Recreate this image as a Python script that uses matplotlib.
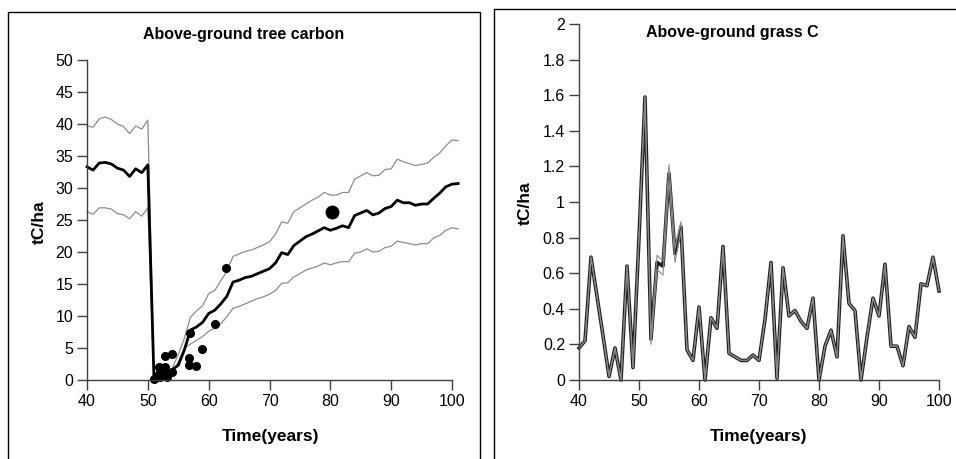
import matplotlib
matplotlib.use("Agg")
import matplotlib.pyplot as plt
from matplotlib.patches import Rectangle
import numpy as np

plt.rcParams['font.family'] = ['Liberation Sans', 'DejaVu Sans']

# ---- Left panel data: above-ground tree carbon ----
tree_years = list(range(40, 102))
tree_mean = [33.3, 32.8, 33.9, 34.0, 33.75, 33.1, 32.8, 31.8, 33.0, 32.4, 33.6,
             0.5, 0.8, 1.0, 1.6, 2.3, 4.7, 7.8, 8.3, 9.0, 10.4,
             10.9, 11.9, 13.1, 15.3, 15.6, 16.0, 16.2, 16.6, 17.0, 17.4,
             18.3, 19.9, 19.6, 21.0, 21.7, 22.4, 22.8, 23.3, 23.8, 23.4,
             23.7, 24.1, 23.8, 25.7, 26.1, 26.5, 25.8, 26.1, 26.8, 27.1,
             28.1, 27.7, 27.7, 27.3, 27.5, 27.5, 28.4, 29.2, 30.2, 30.6, 30.7]
tree_upper = [39.7, 39.5, 40.8, 41.1, 40.7, 40.0, 39.6, 38.5, 39.7, 39.2, 40.6,
              1.0, 1.2, 1.3, 1.8, 4.0, 6.5, 9.8, 10.8, 11.6, 13.5,
              14.0, 15.5, 17.0, 19.3, 19.7, 20.1, 20.3, 20.7, 21.1, 21.6,
              22.8, 24.7, 24.5, 26.3, 26.9, 27.5, 28.1, 28.6, 29.3, 28.9,
              28.9, 29.3, 29.3, 31.4, 31.9, 32.4, 31.9, 32.0, 32.9, 33.0,
              34.5, 34.1, 33.8, 33.5, 33.7, 33.9, 34.8, 35.5, 36.6, 37.5, 37.4]
tree_lower = [26.3, 25.9, 26.9, 26.9, 26.7, 26.0, 25.8, 25.2, 26.3, 25.6, 26.9,
              0.2, 0.5, 0.8, 1.3, 2.8, 5.0, 5.6, 6.2, 6.8, 7.6,
              8.1, 8.8, 9.9, 11.2, 11.5, 11.9, 12.3, 12.7, 13.0, 13.4,
              14.0, 15.1, 15.2, 16.1, 16.6, 17.2, 17.5, 17.8, 18.3, 18.0,
              18.3, 18.5, 18.5, 19.8, 20.0, 20.5, 20.0, 20.1, 20.7, 20.9,
              21.7, 21.5, 21.3, 21.1, 21.3, 21.3, 22.2, 22.6, 23.4, 23.8, 23.6]
obs_years = [51.0, 51.8, 51.9, 52.0, 52.3, 52.9, 52.9, 53.0, 53.1, 54.0, 54.0,
             56.9, 56.8, 56.8, 57.9, 58.9, 61.0, 62.9]
obs_values = [0.1, 2.0, 1.0, 0.5, 1.6, 3.8, 2.1, 1.0, 0.5, 4.0, 1.3,
              7.3, 3.4, 2.3, 2.2, 4.8, 8.7, 17.5]
big_obs_year = [80.3]
big_obs_value = [26.3]

# ---- Right panel data: above-ground grass C ----
grass_years = list(range(40, 101))
grass_mean = [0.18, 0.22, 0.69, 0.47, 0.25, 0.02, 0.18, 0.0, 0.64, 0.07, 0.80,
              1.59, 0.23, 0.66, 0.64, 1.16, 0.71, 0.86, 0.17, 0.11, 0.41,
              0.0, 0.35, 0.29, 0.75, 0.15, 0.13, 0.11, 0.11, 0.14, 0.11,
              0.34, 0.66, 0.01, 0.63, 0.36, 0.39, 0.33, 0.29, 0.46, 0.0,
              0.19, 0.28, 0.13, 0.81, 0.43, 0.39, 0.0, 0.24, 0.46, 0.36,
              0.65, 0.19, 0.19, 0.08, 0.30, 0.24, 0.54, 0.53, 0.69, 0.50]
grass_upper = list(grass_mean)
grass_lower = list(grass_mean)
for yr, up, lo in [(52, 0.24, 0.20), (53, 0.70, 0.62), (54, 0.67, 0.59),
                   (55, 1.21, 1.12), (56, 0.74, 0.66), (57, 0.89, 0.84)]:
    grass_upper[yr - 40] = up
    grass_lower[yr - 40] = lo

W, H = 956, 459
fig = plt.figure(figsize=(W / 100, H / 100), dpi=100)
fig.patch.set_facecolor('white')

# panel frames
fig.patches.append(Rectangle((8 / W, -0.1), 472 / W, (H - 12) / H + 0.1,
                             transform=fig.transFigure, fill=False,
                             edgecolor='black', lw=1.0))
fig.patches.append(Rectangle((494 / W, -0.1), 0.6, (H - 9) / H + 0.1,
                             transform=fig.transFigure, fill=False,
                             edgecolor='black', lw=1.0))

spine_col = '#404040'
TICK_FS = 11.5
TITLE_FS = 11.5
LABEL_FS = 12.5


def style_axes(ax):
    for s in ['top', 'right']:
        ax.spines[s].set_visible(False)
    for s in ['left', 'bottom']:
        ax.spines[s].set_color(spine_col)
        ax.spines[s].set_linewidth(1.0)
    ax.tick_params(direction='out', length=7, width=1.0, color=spine_col,
                   labelsize=TICK_FS, pad=3, labelcolor='black')


# Left axes
ax1 = fig.add_axes([87 / W, (H - 380) / H, 365 / W, 320 / H])
style_axes(ax1)
ax1.plot(tree_years, tree_upper, color='#8c8c8c', lw=0.9, clip_on=False)
ax1.plot(tree_years, tree_lower, color='#8c8c8c', lw=0.9, clip_on=False)
ax1.plot(tree_years, tree_mean, color='black', lw=2.0, clip_on=False)
ax1.plot(obs_years, obs_values, 'o', color='black', ms=5.5, clip_on=False)
ax1.plot(big_obs_year, big_obs_value, 'o', color='black', ms=9, clip_on=False)
ax1.set_xlim(40, 100)
ax1.set_ylim(0, 50)
ax1.set_xticks(range(40, 101, 10))
ax1.set_yticks(range(0, 51, 5))

fig.text(244 / W, 1 - 35 / H, 'Above-ground tree carbon', ha='center',
         va='center', fontsize=TITLE_FS, fontweight='bold')
fig.text(39 / W, 1 - 222 / H, 'tC/ha', ha='center', va='center',
         rotation=90, fontsize=LABEL_FS, fontweight='bold')
fig.text(270 / W, 1 - 437 / H, 'Time(years)', ha='center', va='center',
         fontsize=LABEL_FS, fontweight='bold')

# Right axes
ax2 = fig.add_axes([579 / W, (H - 380) / H, 360 / W, 356 / H])
style_axes(ax2)
ax2.plot(grass_years, grass_mean, color='#222222', lw=2.6, clip_on=False)
ax2.plot(grass_years, grass_upper, color='#8a8a8a', lw=0.8, clip_on=False)
ax2.plot(grass_years, grass_lower, color='#8a8a8a', lw=0.8, clip_on=False)
ax2.set_xlim(40, 100)
ax2.set_ylim(0, 2)
ax2.set_xticks(range(40, 101, 10))
ax2.set_yticks(np.round(np.arange(0, 2.01, 0.2), 1))
ax2.set_yticklabels(['0', '0.2', '0.4', '0.6', '0.8', '1', '1.2', '1.4',
                     '1.6', '1.8', '2'])

fig.text(732 / W, 1 - 32 / H, 'Above-ground grass C', ha='center',
         va='center', fontsize=TITLE_FS, fontweight='bold')
fig.text(525 / W, 1 - 203 / H, 'tC/ha', ha='center', va='center',
         rotation=90, fontsize=LABEL_FS, fontweight='bold')
fig.text(759 / W, 1 - 437 / H, 'Time(years)', ha='center', va='center',
         fontsize=LABEL_FS, fontweight='bold')

fig.savefig('out.png', dpi=100)
